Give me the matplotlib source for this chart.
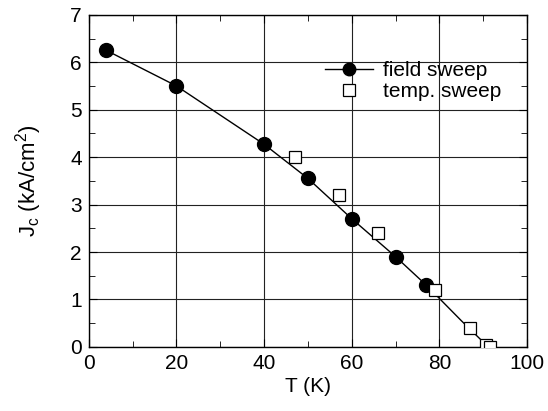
import matplotlib
matplotlib.use("Agg")
import matplotlib.pyplot as plt
from matplotlib.ticker import MultipleLocator
from matplotlib.lines import Line2D

plt.rcParams['font.family'] = ['Liberation Sans', 'DejaVu Sans']

# field sweep data
field_T = [4, 20, 40, 50, 60, 70, 77]
field_J = [6.25, 5.5, 4.27, 3.55, 2.7, 1.9, 1.3]

# temperature sweep data
temp_T = [47, 57, 66, 79, 87, 90.5, 91.5]
temp_J = [4.0, 3.2, 2.4, 1.2, 0.4, 0.05, 0.0]

# guide curve
curve_T = [4, 20, 40, 50, 60, 70, 77, 85, 90, 91]
curve_J = [6.25, 5.5, 4.27, 3.55, 2.7, 1.9, 1.3, 0.55, 0.1, 0.0]

fig = plt.figure(figsize=(5.48, 4.11), dpi=100)
ax = fig.add_axes([0.162, 0.156, 0.800, 0.808])

ax.plot(curve_T, curve_J, '-', color='black', lw=1.0, zorder=3)
ax.plot(field_T, field_J, 'o', color='black', ms=10, zorder=4)
ax.plot(temp_T, temp_J, 's', mfc='white', mec='black', mew=0.9, ms=9, zorder=5)

# legend proxies
h1 = Line2D([], [], color='black', lw=1.0, marker='o', ms=9)
h2 = Line2D([], [], color='none', marker='s', mfc='white', mec='black', mew=0.9, ms=9)
leg = ax.legend([h1, h2], ['field sweep', 'temp. sweep'], loc='upper left',
                bbox_to_anchor=(0.52, 0.885), frameon=False, fontsize=15,
                handlelength=2.3, handletextpad=0.5, labelspacing=0.1,
                borderaxespad=0.0)

ax.set_xlim(0, 100)
ax.set_ylim(0, 7)
ax.xaxis.set_major_locator(MultipleLocator(20))
ax.xaxis.set_minor_locator(MultipleLocator(10))
ax.yaxis.set_major_locator(MultipleLocator(1))
ax.yaxis.set_minor_locator(MultipleLocator(0.5))
ax.grid(True, which='major', color='#222222', lw=0.8)
ax.tick_params(which='both', direction='in', top=True, right=True, labelsize=15)
ax.tick_params(which='major', length=6, pad=5)
ax.tick_params(which='minor', length=4)
for s in ax.spines.values():
    s.set_linewidth(1.0)

ax.set_xlabel('T (K)', fontsize=15, labelpad=3)
ax.set_ylabel(r'J$_\mathregular{c}$ (kA/cm$^\mathregular{2}$)', fontsize=16, labelpad=19)

fig.savefig('out.png', dpi=100)
